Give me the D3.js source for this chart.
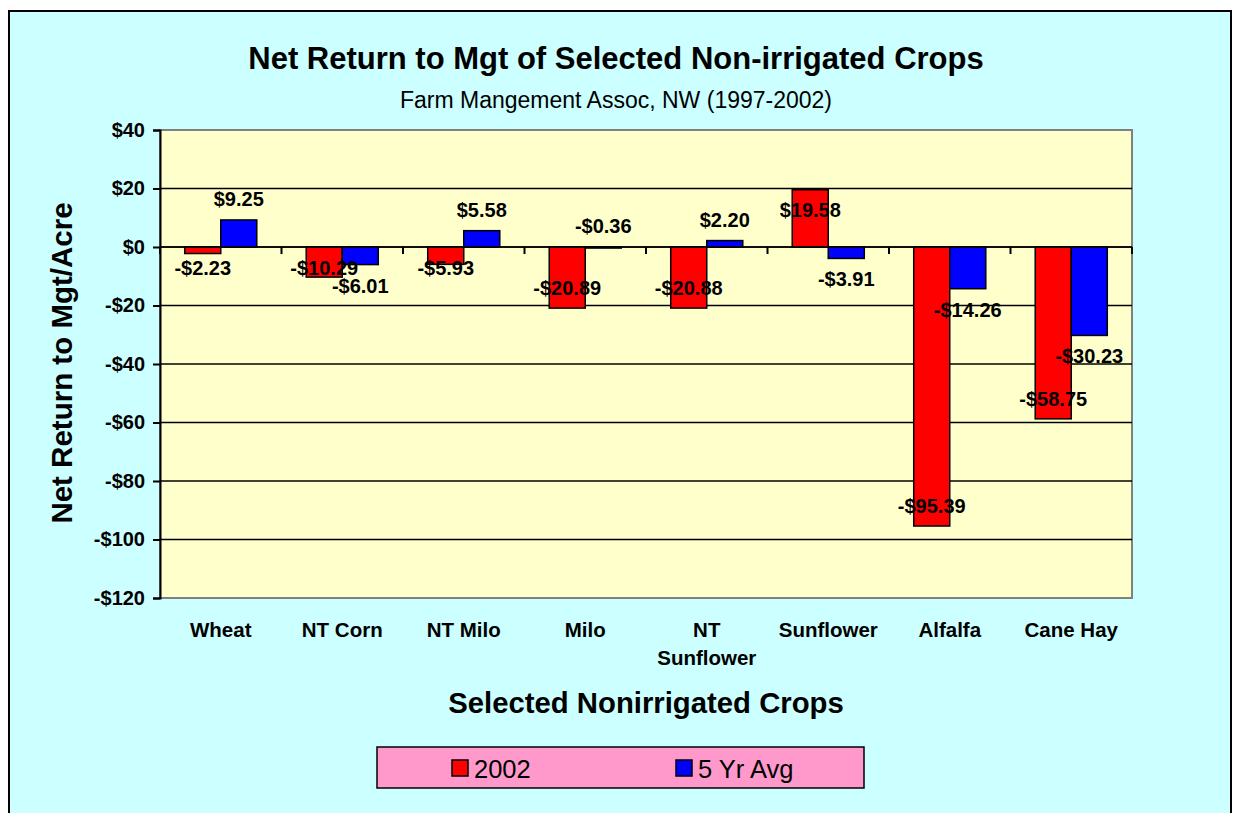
<!DOCTYPE html>
<html>
<head>
<meta charset="utf-8">
<script src="https://cdnjs.cloudflare.com/ajax/libs/d3/7.8.5/d3.min.js"></script>
<style>
  body { margin: 0; background: #fff; }
  svg text { font-family: Arial, "Liberation Sans", sans-serif; }
</style>
</head>
<body>
<svg id="chart" width="1233" height="813"></svg>
<script>
// data
var crops = ["Wheat", "NT Corn", "NT Milo", "Milo", "NT Sunflower", "Sunflower", "Alfalfa", "Cane Hay"];
var series = ["2002", "5 Yr Avg"];
var values2002 = [-2.23, -10.29, -5.93, -20.89, -20.88, 19.58, -95.39, -58.75];
var valuesAvg = [9.25, -6.01, 5.58, -0.36, 2.20, -3.91, -14.26, -30.23];
var yTicks = [40, 20, 0, -20, -40, -60, -80, -100, -120];
var colors = ["#ff0000", "#0000ff"];

var data = crops.map(function(c, i) {
  return { crop: c, vals: [values2002[i], valuesAvg[i]] };
});

var svg = d3.select("#chart");

// outer chart area
svg.append("rect")
  .attr("x", 9).attr("y", 11)
  .attr("width", 1222).attr("height", 820)
  .attr("fill", "#ccffff")
  .attr("stroke", "#000").attr("stroke-width", 2);

var margin = {left: 160, top: 130, right: 1132, bottom: 598};

var x = d3.scaleBand()
  .domain(crops)
  .range([margin.left, margin.right])
  .paddingInner(0.407)
  .paddingOuter(0.2035);

var xs = d3.scaleBand()
  .domain([0, 1])
  .range([0, x.bandwidth()]);

var y = d3.scaleLinear()
  .domain([-120, 40])
  .range([margin.bottom, margin.top]);

// plot area
svg.append("rect")
  .attr("x", margin.left).attr("y", margin.top)
  .attr("width", margin.right - margin.left)
  .attr("height", margin.bottom - margin.top)
  .attr("fill", "#ffffcc")
  .attr("stroke", "#808080").attr("stroke-width", 2);

// gridlines
svg.append("g")
  .selectAll("line")
  .data(yTicks.filter(function(d) { return d < 40 && d > -120; }))
  .enter().append("line")
    .attr("x1", margin.left).attr("x2", margin.right)
    .attr("y1", function(d) { return y(d); })
    .attr("y2", function(d) { return y(d); })
    .attr("stroke", "#000").attr("stroke-width", 1.5);

var money = function(v) {
  return (v < 0 ? "-$" : "$") + d3.format(",.0f")(Math.abs(v));
};
var money2 = function(v) {
  return (v < 0 ? "-$" : "$") + Math.abs(v).toFixed(2);
};

// y axis
var yAxis = svg.append("g")
  .attr("transform", "translate(" + margin.left + ",0)")
  .call(d3.axisLeft(y).tickValues(yTicks).tickSize(7).tickPadding(8).tickFormat(money));
yAxis.select(".domain").attr("stroke", "#000").attr("stroke-width", 2);
yAxis.selectAll(".tick line").attr("stroke", "#000").attr("stroke-width", 2);
yAxis.selectAll(".tick text")
  .attr("font-size", 20).attr("font-weight", "bold")
  .attr("fill", "#000")
  .style("font-family", "Arial, 'Liberation Sans', sans-serif");

// category ticks on the zero line
var catTicks = svg.append("g")
  .attr("transform", "translate(0," + y(0) + ")");
catTicks.selectAll("line")
  .data(d3.range(crops.length + 1))
  .enter().append("line")
    .attr("x1", function(i) { return margin.left + i * x.step(); })
    .attr("x2", function(i) { return margin.left + i * x.step(); })
    .attr("y1", 0).attr("y2", 7)
    .attr("stroke", "#000").attr("stroke-width", 2);

// bars
var groups = svg.append("g")
  .selectAll("g")
  .data(data)
  .enter().append("g")
    .attr("transform", function(d) { return "translate(" + x(d.crop) + ",0)"; });

groups.selectAll("rect")
  .data(function(d) { return d.vals; })
  .enter().append("rect")
    .attr("x", function(v, i) { return xs(i); })
    .attr("y", function(v) { return Math.min(y(v), y(0)); })
    .attr("width", xs.bandwidth())
    .attr("height", function(v) { return Math.abs(y(v) - y(0)); })
    .attr("fill", function(v, i) { return colors[i]; })
    .attr("stroke", "#000").attr("stroke-width", 1.5);

// zero line on top of bars
svg.append("line")
  .attr("x1", margin.left).attr("x2", margin.right)
  .attr("y1", y(0)).attr("y2", y(0))
  .attr("stroke", "#000").attr("stroke-width", 1.5);

// data labels: 2002 inside end, 5 yr avg outside end (tiny bars get it above)
function labelY(v, i) {
  var end = y(v);
  if (i === 1) return v > -1 ? Math.min(end, y(0)) - 21 : end + 21;
  if (v >= 0) return end + 20;
  return Math.max(end - 20, y(0) + 21);
}
groups.selectAll("text")
  .data(function(d) { return d.vals; })
  .enter().append("text")
    .attr("x", function(v, i) { return xs(i) + xs.bandwidth() / 2; })
    .attr("y", function(v, i) { return labelY(v, i); })
    .attr("dy", "0.35em")
    .attr("text-anchor", "middle")
    .attr("font-size", 20).attr("font-weight", "bold")
    .text(function(v) { return money2(v); });

// category labels
var catLabels = svg.append("g")
  .selectAll("text")
  .data(crops)
  .enter().append("text")
    .attr("x", function(d) { return x(d) + x.bandwidth() / 2; })
    .attr("y", 637)
    .attr("text-anchor", "middle")
    .attr("font-size", 20.5).attr("font-weight", "bold");
catLabels.each(function(d) {
  var words = d === "NT Sunflower" ? ["NT", "Sunflower"] : [d];
  var t = d3.select(this);
  words.forEach(function(w, k) {
    t.append("tspan")
      .attr("x", x(d) + x.bandwidth() / 2)
      .attr("dy", k === 0 ? 0 : 28)
      .text(w);
  });
});

// titles
svg.append("text")
  .attr("x", 616).attr("y", 69)
  .attr("text-anchor", "middle")
  .attr("font-size", 31).attr("font-weight", "bold")
  .text("Net Return to Mgt of Selected Non-irrigated Crops");

svg.append("text")
  .attr("x", 616).attr("y", 108)
  .attr("text-anchor", "middle")
  .attr("font-size", 23)
  .text("Farm Mangement Assoc, NW (1997-2002)");

svg.append("text")
  .attr("x", 646).attr("y", 713)
  .attr("text-anchor", "middle")
  .attr("font-size", 29.3).attr("font-weight", "bold")
  .text("Selected Nonirrigated Crops");

svg.append("text")
  .attr("transform", "translate(72,363) rotate(-90)")
  .attr("text-anchor", "middle")
  .attr("font-size", 29.5).attr("font-weight", "bold")
  .text("Net Return to Mgt/Acre");

// legend
var legend = svg.append("g");
legend.append("rect")
  .attr("x", 377).attr("y", 747)
  .attr("width", 487).attr("height", 41)
  .attr("fill", "#ff99cc")
  .attr("stroke", "#000").attr("stroke-width", 1.5);

var legX = [452, 676];
var items = legend.selectAll("g.item")
  .data(series)
  .enter().append("g")
    .attr("class", "item")
    .attr("transform", function(d, i) { return "translate(" + legX[i] + ",760)"; });
items.append("rect")
  .attr("width", 16).attr("height", 16)
  .attr("fill", function(d, i) { return colors[i]; })
  .attr("stroke", "#000").attr("stroke-width", 1.5);
items.append("text")
  .attr("x", 22).attr("y", 17.5)
  .attr("font-size", 25.5)
  .text(function(d) { return d; });
</script>
</body>
</html>
